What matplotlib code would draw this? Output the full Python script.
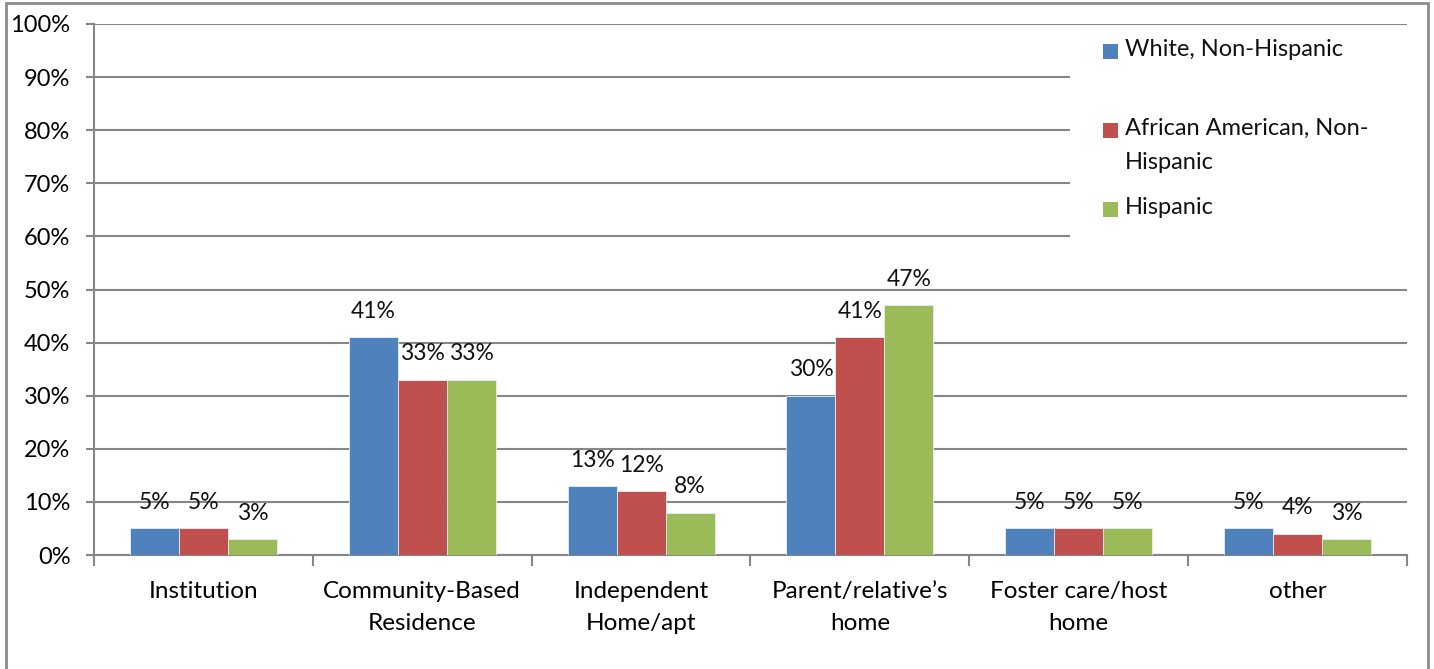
import matplotlib
matplotlib.use("Agg")
import matplotlib.pyplot as plt
import numpy as np
from matplotlib.patches import Rectangle

categories = ["Institution", "Community-Based\nResidence", "Independent\nHome/apt",
              "Parent/relative\u2019s\nhome", "Foster care/host\nhome", "other"]
series_names = ["White, Non-Hispanic", "African American, Non-\nHispanic", "Hispanic"]
white = [5, 41, 13, 30, 5, 5]
african_american = [5, 33, 12, 41, 5, 4]
hispanic = [3, 33, 8, 47, 5, 3]
colors = ["#4F81BD", "#C0504D", "#9BBB59"]
yticks = list(range(0, 101, 10))

plt.rcParams['font.family'] = ['Lato', 'DejaVu Sans']
FS = 17
W, H = 1434, 669
fig = plt.figure(figsize=(W/100, H/100), dpi=100)
ax = fig.add_axes([94/W, 1-555/H, (1407-94)/W, (555-24)/H])

grid_c = "#868686"
x = np.arange(len(categories))
w = 0.224
for i, (vals, c) in enumerate(zip([white, african_american, hispanic], colors)):
    ax.bar(x + (i-1)*w, vals, width=w, color=c, edgecolor="#e8eef5", linewidth=0.6, zorder=3)
    for xb, v in zip(x + (i-1)*w, vals):
        ax.annotate(f"{v}%", (xb, v), xytext=(0, 11), textcoords="offset points",
                    ha="center", va="bottom", fontsize=16.5, color="#111111", zorder=4)

ax.set_xlim(-0.5, len(categories)-0.5)
ax.set_ylim(0, 100)
ax.set_yticks(yticks)
ax.set_yticklabels([f"{t}%" for t in yticks], fontsize=FS)
ax.yaxis.grid(True, color=grid_c, linewidth=1.5, zorder=0)
ax.set_xticks(x)
ax.set_xticklabels(categories, fontsize=17.5, linespacing=1.6)
ax.set_xticks(np.arange(-0.5, len(categories)), minor=True)
ax.tick_params(axis="x", which="major", length=0, pad=19)
ax.tick_params(axis="x", which="minor", length=8, width=1.5, color=grid_c)
ax.tick_params(axis="y", length=6, width=1.5, color=grid_c, pad=11)
for s in ["top", "right"]:
    ax.spines[s].set_visible(False)
for s in ["left", "bottom"]:
    ax.spines[s].set_color(grid_c)
    ax.spines[s].set_linewidth(1.5)

# legend (drawn manually to mimic Excel's spacing)
fig.patches.append(Rectangle((1070/W, 1-241/H), (1409-1070)/W, (241-27)/H,
                             transform=fig.transFigure, facecolor="white",
                             edgecolor="none", zorder=5))
leg_y = [51, 130, 209]
for name, c, yy in zip(series_names, colors, leg_y):
    fig.patches.append(Rectangle((1103/W, 1-(yy+7.5)/H), 15/W, 15/H,
                                 transform=fig.transFigure, facecolor=c,
                                 edgecolor="none", zorder=6))
    fig.text(1125/W, 1-(yy-12)/H, name, fontsize=FS, va="top", ha="left",
             linespacing=1.75, zorder=7, color="#111111")

# outer border
fig.patches.append(Rectangle((6/W, -0.05), (1428-6)/W, 1.05-3/H, transform=fig.transFigure,
                             facecolor="none", edgecolor="#8c8c8c", linewidth=2.0))

fig.savefig("out.png", dpi=100)
